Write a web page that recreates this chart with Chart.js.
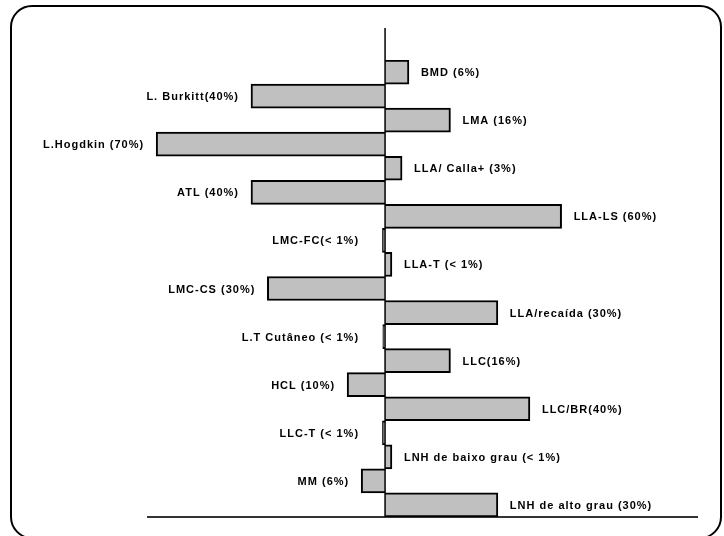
<!DOCTYPE html>
<html>
<head>
<meta charset="utf-8">
<script src="https://cdn.jsdelivr.net/npm/chart.js@4.4.0/dist/chart.umd.min.js"></script>
<style>
  body { margin: 0; background: #fff; }
  #wrap { position: relative; width: 724px; height: 536px; }
  #frame {
    position: absolute; left: 10px; top: 5px; width: 708px; height: 530px;
    border: 2px solid #000; border-radius: 22px; pointer-events: none;
  }
</style>
</head>
<body>
<div id="wrap">
  <canvas id="chart"></canvas>
  <div id="frame"></div>
</div>
<script>
// row labels, top to bottom
const categories = [
  'BMD (6%)', 'L. Burkitt(40%)', 'LMA (16%)', 'L.Hogdkin (70%)', 'LLA/ Calla+ (3%)',
  'ATL (40%)', 'LLA-LS (60%)', 'LMC-FC(< 1%)', 'LLA-T (< 1%)', 'LMC-CS (30%)',
  'LLA/recaída (30%)', 'L.T Cutâneo (< 1%)', 'LLC(16%)', 'HCL (10%)', 'LLC/BR(40%)',
  'LLC-T (< 1%)', 'LNH de baixo grau (< 1%)', 'MM (6%)', 'LNH de alto grau (30%)'
];
// bar lengths as drawn (negative = left of the axis)
const values = [
  7.3, -41, 20, -70, 5.2,
  -41, 54, -0.8, 2.1, -36,
  34.5, -0.7, 20, -11.6, 44.3,
  -0.8, 2.1, -7.3, 34.5
];
const axisMin = -72.5;
const axisMax = 95.4;

// axis line that runs up past the first bar
const zeroLine = {
  id: 'zeroLine',
  afterDatasetsDraw(chart) {
    const ctx = chart.ctx;
    const x = chart.scales.x.getPixelForValue(0);
    ctx.save();
    ctx.strokeStyle = '#000';
    ctx.lineWidth = 1.5;
    ctx.beginPath();
    ctx.moveTo(x, 28);
    ctx.lineTo(x, chart.chartArea.bottom);
    ctx.stroke();
    ctx.restore();
  }
};

// text next to the end of each bar
const barLabels = {
  id: 'barLabels',
  afterDatasetsDraw(chart) {
    const ctx = chart.ctx;
    const xs = chart.scales.x, ys = chart.scales.y;
    const zero = xs.getPixelForValue(0);
    ctx.save();
    ctx.font = 'bold 11px "Liberation Sans", Arial, sans-serif';
    ctx.letterSpacing = '1px';
    ctx.fillStyle = '#000';
    ctx.textBaseline = 'middle';
    values.forEach((v, i) => {
      const y = ys.getPixelForValue(i) + 1;
      const end = xs.getPixelForValue(v);
      if (v >= 0) {
        ctx.textAlign = 'left';
        ctx.fillText(categories[i], Math.max(end + 12, zero + 14), y);
      } else {
        ctx.textAlign = 'right';
        ctx.fillText(categories[i], Math.min(end - 12, zero - 26), y);
      }
    });
    ctx.restore();
  }
};

new Chart(document.getElementById('chart'), {
  type: 'bar',
  data: {
    labels: categories,
    datasets: [{
      data: values,
      backgroundColor: '#c0c0c0',
      borderColor: '#000',
      borderWidth: 2,
      barPercentage: 1,
      categoryPercentage: 1
    }]
  },
  options: {
    indexAxis: 'y',
    responsive: true,
    maintainAspectRatio: false,
    animation: false,
    layout: { padding: { left: 148, right: 27, top: 60, bottom: 19 } },
    plugins: { legend: { display: false }, tooltip: { enabled: false } },
    scales: {
      x: {
        min: axisMin,
        max: axisMax,
        ticks: { display: false },
        grid: { display: false, drawTicks: false },
        border: { display: true, color: '#333', width: 2 }
      },
      y: { display: false }
    }
  },
  plugins: [zeroLine, barLabels]
});
</script>
</body>
</html>
